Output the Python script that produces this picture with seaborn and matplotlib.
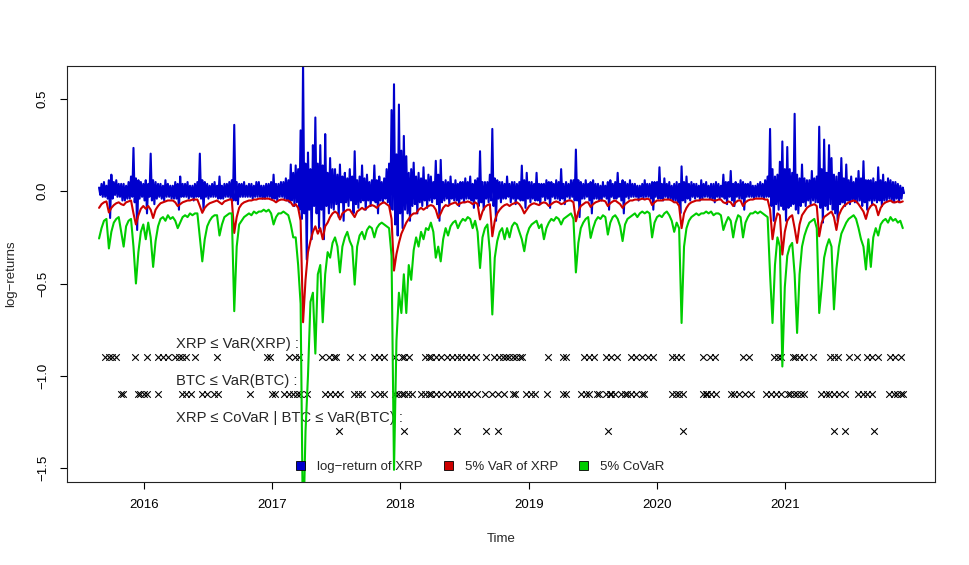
import numpy as np
import pandas as pd
import matplotlib
matplotlib.use("Agg")
import matplotlib.pyplot as plt
from matplotlib.patches import Patch
import seaborn as sns

# start of the series in decimal years, weekly readings
start_year = 2015.65
weeks_per_year = 52.18

# XRP log-returns: weekly upper and lower edge of the blue band
log_return_high = [
    0.02, 0.04, 0.05, 0.03, 0.06, 0.09, 0.05, 0.06, 0.04, 0.04,
    0.04, 0.03, 0.05, 0.08, 0.235, 0.07, 0.06, 0.05, 0.04, 0.06,
    0.04, 0.204, 0.06, 0.05, 0.04, 0.04, 0.03, 0.06, 0.04, 0.03,
    0.03, 0.05, 0.04, 0.08, 0.04, 0.04, 0.05, 0.03, 0.03, 0.04,
    0.05, 0.204, 0.06, 0.05, 0.04, 0.03, 0.04, 0.05, 0.03, 0.08,
    0.03, 0.04, 0.04, 0.05, 0.06, 0.36, 0.05, 0.04, 0.04, 0.05,
    0.03, 0.04, 0.04, 0.03, 0.05, 0.05, 0.03, 0.03, 0.04, 0.04,
    0.05, 0.09, 0.04, 0.04, 0.05, 0.05, 0.07, 0.06, 0.145, 0.10,
    0.14, 0.12, 0.33, 0.70, 0.15, 0.21, 0.12, 0.25, 0.40, 0.15,
    0.25, 0.14, 0.31, 0.10, 0.18, 0.12, 0.12, 0.09, 0.145, 0.08,
    0.10, 0.07, 0.12, 0.08, 0.217, 0.06, 0.08, 0.14, 0.07, 0.09,
    0.05, 0.06, 0.14, 0.06, 0.08, 0.05, 0.07, 0.12, 0.15, 0.44,
    0.58, 0.20, 0.47, 0.22, 0.30, 0.19, 0.10, 0.12, 0.155, 0.08,
    0.10, 0.07, 0.13, 0.06, 0.09, 0.08, 0.05, 0.165, 0.09, 0.17,
    0.05, 0.06, 0.05, 0.08, 0.04, 0.06, 0.04, 0.05, 0.05, 0.07,
    0.05, 0.08, 0.04, 0.06, 0.07, 0.217, 0.05, 0.05, 0.05, 0.09,
    0.338, 0.07, 0.06, 0.05, 0.05, 0.04, 0.08, 0.04, 0.05, 0.05,
    0.04, 0.05, 0.139, 0.06, 0.10, 0.05, 0.05, 0.04, 0.10, 0.04,
    0.04, 0.04, 0.06, 0.05, 0.05, 0.04, 0.06, 0.05, 0.12, 0.04,
    0.05, 0.04, 0.06, 0.06, 0.226, 0.06, 0.05, 0.04, 0.06, 0.04,
    0.05, 0.06, 0.04, 0.04, 0.03, 0.05, 0.03, 0.05, 0.06, 0.04,
    0.05, 0.10, 0.04, 0.06, 0.05, 0.04, 0.06, 0.04, 0.04, 0.03,
    0.03, 0.04, 0.06, 0.04, 0.04, 0.05, 0.05, 0.05, 0.13, 0.04,
    0.07, 0.04, 0.05, 0.03, 0.04, 0.05, 0.04, 0.135, 0.05, 0.08,
    0.04, 0.05, 0.04, 0.04, 0.03, 0.06, 0.04, 0.05, 0.03, 0.04,
    0.04, 0.05, 0.04, 0.03, 0.09, 0.05, 0.05, 0.11, 0.04, 0.05,
    0.04, 0.06, 0.05, 0.04, 0.04, 0.05, 0.03, 0.03, 0.04, 0.05,
    0.04, 0.06, 0.08, 0.338, 0.12, 0.08, 0.09, 0.16, 0.27, 0.12,
    0.24, 0.12, 0.10, 0.42, 0.09, 0.07, 0.145, 0.07, 0.06, 0.06,
    0.11, 0.07, 0.08, 0.35, 0.12, 0.28, 0.10, 0.25, 0.18, 0.09,
    0.08, 0.10, 0.18, 0.07, 0.145, 0.06, 0.08, 0.05, 0.07, 0.11,
    0.07, 0.163, 0.06, 0.06, 0.06, 0.07, 0.05, 0.13, 0.06, 0.09,
    0.05, 0.07, 0.06, 0.05, 0.05, 0.04, 0.03, 0.02,
]
log_return_low = [
    -0.02, -0.03, -0.03, -0.04, -0.145, -0.04, -0.02, -0.03, -0.03, -0.05,
    -0.05, -0.04, -0.04, -0.03, -0.06, -0.21, -0.04, -0.03, -0.05, -0.12,
    -0.03, -0.05, -0.07, -0.04, -0.03, -0.04, -0.05, -0.03, -0.03, -0.04,
    -0.04, -0.04, -0.10, -0.03, -0.03, -0.03, -0.04, -0.03, -0.05, -0.03,
    -0.03, -0.04, -0.10, -0.03, -0.04, -0.03, -0.03, -0.03, -0.04, -0.04,
    -0.04, -0.03, -0.03, -0.04, -0.05, -0.05, -0.07, -0.03, -0.03, -0.03,
    -0.03, -0.03, -0.04, -0.03, -0.03, -0.03, -0.04, -0.04, -0.03, -0.03,
    -0.04, -0.04, -0.05, -0.03, -0.03, -0.04, -0.05, -0.06, -0.05, -0.08,
    -0.06, -0.10, -0.15, -0.12, -0.37, -0.10, -0.26, -0.08, -0.12, -0.20,
    -0.10, -0.26, -0.08, -0.12, -0.09, -0.10, -0.07, -0.14, -0.06, -0.16,
    -0.06, -0.08, -0.05, -0.12, -0.07, -0.09, -0.06, -0.05, -0.10, -0.05,
    -0.08, -0.05, -0.06, -0.12, -0.05, -0.06, -0.04, -0.06, -0.10, -0.10,
    -0.18, -0.24, -0.12, -0.20, -0.10, -0.12, -0.16, -0.08, -0.07, -0.12,
    -0.06, -0.08, -0.05, -0.09, -0.05, -0.06, -0.04, -0.07, -0.16, -0.06,
    -0.05, -0.04, -0.07, -0.04, -0.05, -0.05, -0.08, -0.04, -0.06, -0.04,
    -0.04, -0.05, -0.09, -0.04, -0.08, -0.06, -0.10, -0.04, -0.06, -0.05,
    -0.08, -0.16, -0.04, -0.06, -0.04, -0.04, -0.03, -0.06, -0.04, -0.07,
    -0.04, -0.05, -0.05, -0.09, -0.04, -0.06, -0.04, -0.05, -0.05, -0.07,
    -0.03, -0.05, -0.04, -0.09, -0.03, -0.04, -0.04, -0.05, -0.04, -0.07,
    -0.03, -0.04, -0.03, -0.05, -0.05, -0.14, -0.04, -0.04, -0.03, -0.05,
    -0.12, -0.04, -0.04, -0.05, -0.05, -0.03, -0.04, -0.10, -0.03, -0.04,
    -0.04, -0.03, -0.05, -0.12, -0.03, -0.04, -0.03, -0.03, -0.03, -0.05,
    -0.03, -0.04, -0.03, -0.03, -0.04, -0.10, -0.03, -0.04, -0.04, -0.05,
    -0.03, -0.04, -0.04, -0.05, -0.05, -0.06, -0.12, -0.05, -0.06, -0.04,
    -0.05, -0.03, -0.04, -0.03, -0.05, -0.04, -0.03, -0.03, -0.04, -0.04,
    -0.06, -0.03, -0.04, -0.03, -0.04, -0.07, -0.03, -0.05, -0.08, -0.03,
    -0.04, -0.04, -0.10, -0.03, -0.03, -0.03, -0.04, -0.03, -0.03, -0.03,
    -0.04, -0.03, -0.03, -0.08, -0.16, -0.07, -0.10, -0.08, -0.10, -0.16,
    -0.09, -0.08, -0.07, -0.10, -0.12, -0.08, -0.06, -0.08, -0.05, -0.07,
    -0.05, -0.06, -0.06, -0.09, -0.17, -0.08, -0.10, -0.07, -0.10, -0.12,
    -0.16, -0.07, -0.06, -0.08, -0.05, -0.07, -0.05, -0.06, -0.06, -0.05,
    -0.08, -0.06, -0.10, -0.05, -0.07, -0.05, -0.06, -0.05, -0.08, -0.05,
    -0.05, -0.04, -0.05, -0.06, -0.04, -0.06, -0.04, -0.01,
]

# 5% VaR of XRP, weekly
var_xrp = [
    -0.09, -0.07, -0.06, -0.055, -0.115, -0.09, -0.075, -0.065, -0.06, -0.07,
    -0.075, -0.06, -0.055, -0.05, -0.12, -0.18, -0.13, -0.095, -0.08, -0.095,
    -0.08, -0.10, -0.145, -0.10, -0.08, -0.065, -0.06, -0.055, -0.05, -0.05,
    -0.05, -0.06, -0.08, -0.07, -0.06, -0.055, -0.05, -0.05, -0.045, -0.045,
    -0.045, -0.08, -0.117, -0.09, -0.075, -0.065, -0.06, -0.055, -0.05, -0.06,
    -0.07, -0.055, -0.05, -0.045, -0.045, -0.226, -0.14, -0.09, -0.07, -0.06,
    -0.055, -0.05, -0.05, -0.045, -0.045, -0.04, -0.04, -0.04, -0.04, -0.04,
    -0.045, -0.05, -0.06, -0.05, -0.045, -0.045, -0.05, -0.05, -0.06, -0.08,
    -0.07, -0.09, -0.16, -0.71, -0.48, -0.33, -0.27, -0.22, -0.19, -0.23,
    -0.20, -0.26, -0.19, -0.17, -0.14, -0.12, -0.11, -0.12, -0.153, -0.12,
    -0.11, -0.10, -0.10, -0.12, -0.14, -0.11, -0.10, -0.09, -0.10, -0.09,
    -0.08, -0.075, -0.08, -0.09, -0.075, -0.065, -0.06, -0.07, -0.08, -0.15,
    -0.43, -0.34, -0.28, -0.23, -0.20, -0.17, -0.15, -0.13, -0.12, -0.12,
    -0.10, -0.09, -0.10, -0.09, -0.08, -0.075, -0.08, -0.10, -0.145, -0.12,
    -0.09, -0.075, -0.08, -0.07, -0.065, -0.06, -0.075, -0.065, -0.06, -0.06,
    -0.055, -0.06, -0.07, -0.06, -0.07, -0.153, -0.11, -0.085, -0.075, -0.07,
    -0.244, -0.16, -0.12, -0.10, -0.085, -0.075, -0.07, -0.08, -0.07, -0.065,
    -0.06, -0.07, -0.09, -0.12, -0.10, -0.08, -0.07, -0.065, -0.07, -0.075,
    -0.065, -0.06, -0.065, -0.08, -0.07, -0.06, -0.055, -0.06, -0.07, -0.065,
    -0.055, -0.05, -0.05, -0.06, -0.163, -0.11, -0.08, -0.07, -0.06, -0.06,
    -0.085, -0.07, -0.06, -0.055, -0.05, -0.05, -0.055, -0.08, -0.065, -0.055,
    -0.05, -0.06, -0.07, -0.09, -0.07, -0.06, -0.05, -0.05, -0.045, -0.045,
    -0.045, -0.04, -0.045, -0.04, -0.045, -0.075, -0.06, -0.05, -0.05, -0.05,
    -0.045, -0.045, -0.045, -0.05, -0.06, -0.06, -0.08, -0.20, -0.12, -0.09,
    -0.07, -0.06, -0.055, -0.05, -0.05, -0.045, -0.045, -0.045, -0.045, -0.045,
    -0.05, -0.05, -0.045, -0.045, -0.06, -0.065, -0.055, -0.06, -0.08, -0.06,
    -0.05, -0.05, -0.08, -0.06, -0.05, -0.045, -0.045, -0.04, -0.04, -0.04,
    -0.04, -0.045, -0.045, -0.10, -0.26, -0.17, -0.12, -0.13, -0.343, -0.22,
    -0.16, -0.14, -0.13, -0.20, -0.28, -0.18, -0.13, -0.11, -0.09, -0.08,
    -0.075, -0.07, -0.08, -0.244, -0.17, -0.14, -0.13, -0.12, -0.11, -0.14,
    -0.21, -0.13, -0.10, -0.08, -0.07, -0.06, -0.055, -0.05, -0.055, -0.07,
    -0.09, -0.11, -0.15, -0.10, -0.08, -0.07, -0.08, -0.13, -0.09, -0.07,
    -0.06, -0.055, -0.05, -0.06, -0.06, -0.055, -0.06, -0.055,
]

# 5% CoVaR of XRP given BTC distress, weekly
covar_xrp = [
    -0.256, -0.20, -0.16, -0.15, -0.31, -0.22, -0.17, -0.15, -0.14, -0.22,
    -0.30, -0.19, -0.16, -0.15, -0.30, -0.50, -0.33, -0.22, -0.18, -0.26,
    -0.17, -0.25, -0.41, -0.27, -0.19, -0.15, -0.14, -0.16, -0.13, -0.15,
    -0.14, -0.16, -0.20, -0.17, -0.14, -0.13, -0.14, -0.12, -0.13, -0.12,
    -0.12, -0.25, -0.38, -0.26, -0.19, -0.16, -0.14, -0.13, -0.13, -0.24,
    -0.18, -0.14, -0.13, -0.12, -0.12, -0.65, -0.30, -0.18, -0.16, -0.14,
    -0.13, -0.12, -0.13, -0.11, -0.12, -0.11, -0.11, -0.10, -0.11, -0.10,
    -0.12, -0.18, -0.14, -0.12, -0.12, -0.11, -0.12, -0.13, -0.18, -0.25,
    -0.25, -0.40, -0.61, -1.90, -1.30, -1.00, -0.60, -0.55, -0.88, -0.45,
    -0.40, -0.71, -0.45, -0.33, -0.36, -0.28, -0.25, -0.30, -0.44, -0.30,
    -0.25, -0.22, -0.27, -0.30, -0.506, -0.30, -0.24, -0.22, -0.26, -0.21,
    -0.19, -0.20, -0.25, -0.20, -0.18, -0.17, -0.18, -0.19, -0.20, -0.35,
    -1.51, -0.81, -0.55, -0.66, -0.45, -0.66, -0.40, -0.48, -0.32, -0.25,
    -0.30, -0.22, -0.26, -0.20, -0.21, -0.17, -0.22, -0.36, -0.30, -0.38,
    -0.26, -0.20, -0.24, -0.19, -0.17, -0.16, -0.20, -0.17, -0.15, -0.16,
    -0.14, -0.15, -0.20, -0.16, -0.22, -0.416, -0.25, -0.20, -0.18, -0.33,
    -0.668, -0.36, -0.27, -0.22, -0.20, -0.26, -0.20, -0.25, -0.19, -0.17,
    -0.18, -0.22, -0.26, -0.325, -0.24, -0.20, -0.18, -0.17, -0.16, -0.20,
    -0.18, -0.26, -0.20, -0.17, -0.15, -0.16, -0.14, -0.15, -0.18, -0.15,
    -0.14, -0.13, -0.12, -0.15, -0.44, -0.28, -0.20, -0.17, -0.15, -0.14,
    -0.253, -0.20, -0.16, -0.14, -0.15, -0.13, -0.14, -0.235, -0.17, -0.14,
    -0.13, -0.15, -0.19, -0.27, -0.18, -0.15, -0.14, -0.13, -0.12, -0.14,
    -0.12, -0.11, -0.12, -0.11, -0.12, -0.25, -0.17, -0.14, -0.13, -0.14,
    -0.12, -0.11, -0.13, -0.16, -0.22, -0.17, -0.20, -0.714, -0.30, -0.20,
    -0.16, -0.14, -0.13, -0.12, -0.13, -0.12, -0.12, -0.11, -0.12, -0.11,
    -0.13, -0.12, -0.12, -0.13, -0.21, -0.17, -0.14, -0.16, -0.25, -0.17,
    -0.13, -0.14, -0.25, -0.17, -0.14, -0.12, -0.12, -0.11, -0.12, -0.11,
    -0.12, -0.13, -0.14, -0.45, -0.714, -0.40, -0.25, -0.30, -0.95, -0.52,
    -0.35, -0.30, -0.28, -0.45, -0.768, -0.45, -0.30, -0.24, -0.20, -0.17,
    -0.16, -0.15, -0.20, -0.66, -0.52, -0.36, -0.30, -0.26, -0.30, -0.64,
    -0.42, -0.30, -0.23, -0.20, -0.17, -0.15, -0.14, -0.13, -0.15, -0.20,
    -0.26, -0.30, -0.424, -0.26, -0.41, -0.25, -0.20, -0.24, -0.18, -0.16,
    -0.15, -0.17, -0.14, -0.16, -0.15, -0.17, -0.16, -0.20,
]

# exceedance dates (decimal years)
xrp_hits = [
    2015.70, 2015.73, 2015.75, 2015.78, 2015.93, 2016.02, 2016.11, 2016.15,
    2016.19, 2016.24, 2016.27, 2016.30, 2016.33, 2016.40, 2016.57, 2016.96,
    2016.98, 2017.13, 2017.18, 2017.21, 2017.39, 2017.44, 2017.48, 2017.50,
    2017.61, 2017.70, 2017.79, 2017.83, 2017.87, 2017.96, 2018.01, 2018.03,
    2018.07, 2018.19, 2018.22, 2018.24, 2018.28, 2018.32, 2018.36, 2018.40,
    2018.44, 2018.47, 2018.51, 2018.55, 2018.59, 2018.67, 2018.73, 2018.77,
    2018.80, 2018.82, 2018.85, 2018.88, 2018.90, 2018.93, 2018.95, 2019.15,
    2019.27, 2019.29, 2019.43, 2019.47, 2019.51, 2019.60, 2019.64, 2019.69,
    2019.80, 2019.84, 2019.88, 2019.93, 2019.97, 2020.12, 2020.15, 2020.19,
    2020.36, 2020.41, 2020.45, 2020.67, 2020.72, 2020.91, 2020.94, 2020.97,
    2021.06, 2021.08, 2021.11, 2021.15, 2021.22, 2021.35, 2021.38, 2021.41,
    2021.50, 2021.56, 2021.64, 2021.68, 2021.72, 2021.82, 2021.86, 2021.90,
]
btc_hits = [
    2015.82, 2015.84, 2015.95, 2015.97, 2016.00, 2016.02, 2016.11, 2016.30,
    2016.33, 2016.37, 2016.45, 2016.49, 2016.55, 2016.58, 2016.83, 2017.00,
    2017.02, 2017.09, 2017.13, 2017.16, 2017.19, 2017.22, 2017.27, 2017.41,
    2017.45, 2017.49, 2017.53, 2017.64, 2017.67, 2017.70, 2017.79, 2017.84,
    2017.87, 2017.96, 2017.98, 2018.01, 2018.03, 2018.06, 2018.09, 2018.16,
    2018.19, 2018.22, 2018.24, 2018.28, 2018.32, 2018.36, 2018.40, 2018.44,
    2018.47, 2018.51, 2018.55, 2018.60, 2018.66, 2018.71, 2018.76, 2018.81,
    2018.88, 2018.89, 2018.98, 2019.02, 2019.05, 2019.14, 2019.27, 2019.29,
    2019.41, 2019.45, 2019.47, 2019.53, 2019.55, 2019.60, 2019.63, 2019.64,
    2019.67, 2019.72, 2019.75, 2019.77, 2019.80, 2019.84, 2019.88, 2019.90,
    2020.12, 2020.15, 2020.17, 2020.20, 2020.36, 2020.38, 2020.39, 2020.42,
    2020.46, 2020.58, 2020.60, 2020.64, 2020.69, 2020.73, 2020.85, 2020.89,
    2020.93, 2020.97, 2021.02, 2021.04, 2021.07, 2021.09, 2021.12, 2021.15,
    2021.28, 2021.32, 2021.34, 2021.38, 2021.42, 2021.47, 2021.57, 2021.61,
    2021.64, 2021.68, 2021.81, 2021.85, 2021.87, 2021.90, 2021.92,
]
joint_hits = [
    2017.52, 2018.03, 2018.44, 2018.67, 2018.76, 2019.62, 2020.20,
    2021.38, 2021.47, 2021.69,
]

row_levels = [-0.9, -1.1, -1.3]
row_labels = ["XRP \u2264 VaR(XRP) :", "BTC \u2264 VaR(BTC) :",
              "XRP \u2264 CoVaR | BTC \u2264 VaR(BTC) :"]
series_names = ["log\u2212return of XRP", "5% VaR of XRP", "5% CoVaR"]
series_colors = ["#0000CD", "#CD0000", "#00CD00"]
year_ticks = [2016, 2017, 2018, 2019, 2020, 2021]

# blue band: upper and lower reading of each week, half a week apart
band = np.column_stack([log_return_high, log_return_low]).ravel()
time_half = start_year + np.arange(len(band)) / (2 * weeks_per_year)
time_week = start_year + np.arange(len(var_xrp)) / weeks_per_year
lines_df = pd.concat([
    pd.DataFrame({"time": time_half, "value": band, "series": series_names[0]}),
    pd.DataFrame({"time": time_week, "value": var_xrp, "series": series_names[1]}),
    pd.DataFrame({"time": time_week, "value": covar_xrp, "series": series_names[2]}),
])
hits_df = pd.concat([
    pd.DataFrame({"time": hits, "level": lvl})
    for hits, lvl in zip([xrp_hits, btc_hits, joint_hits], row_levels)
])

sns.set_style("ticks")
plt.rcParams["font.family"] = ["Liberation Sans", "DejaVu Sans"]
plt.rcParams["axes.unicode_minus"] = True

fig = plt.figure(figsize=(9.69, 5.65), dpi=100)
ax = fig.add_axes([67 / 969, 83 / 565, 868 / 969, 416 / 565])

# exceedance markers + row captions
sns.scatterplot(data=hits_df, x="time", y="level", marker="x", color="black",
                s=22, linewidth=0.8, ax=ax, zorder=1, legend=False)
for lvl, lab in zip(row_levels, row_labels):
    ax.text(2016.25, lvl + 0.07, lab, fontsize=10.6, ha="left", va="center",
            zorder=1)

sns.lineplot(data=lines_df, x="time", y="value", hue="series",
             hue_order=series_names, palette=series_colors, sort=False,
             linewidth=1.5, legend=False, ax=ax, zorder=2)

ax.set_xlim(2015.40, 2022.168)
ax.set_ylim(-1.576, 0.679)
ax.set_xticks(year_ticks)
ax.set_xticklabels([str(y) for y in year_ticks])
ax.set_yticks([-1.5, -1.0, -0.5, 0.0, 0.5])
ax.set_yticklabels(["\u22121.5", "\u22121.0", "\u22120.5", "0.0", "0.5"])
ax.tick_params(axis="both", direction="out", length=5, width=0.8,
               labelsize=9.5, colors="black")
ax.tick_params(axis="x", pad=7)
ax.tick_params(axis="y", pad=8)
for lab in ax.get_yticklabels():
    lab.set_rotation(90)
    lab.set_va("center")

for sp in ax.spines.values():
    sp.set_visible(True)
    sp.set_color("#222222")
    sp.set_linewidth(0.8)

ax.set_xlabel("Time", fontsize=9.5)
ax.set_ylabel("log\u2212returns", fontsize=9.5)
ax.xaxis.set_label_coords(0.5, -0.137)
ax.xaxis.label.set_va("center")
ax.yaxis.set_label_coords(-0.0645, 0.5)
ax.yaxis.label.set_va("center")

handles = [Patch(facecolor=c, edgecolor="black", linewidth=0.6)
           for c in series_colors]
ax.legend(handles, series_names, loc="center", bbox_to_anchor=(0.476, 0.036),
          ncol=3, frameon=False, fontsize=9.5, handlelength=0.7,
          handleheight=0.7, handletextpad=0.9, columnspacing=1.6)

fig.savefig("out.png", dpi=100)
